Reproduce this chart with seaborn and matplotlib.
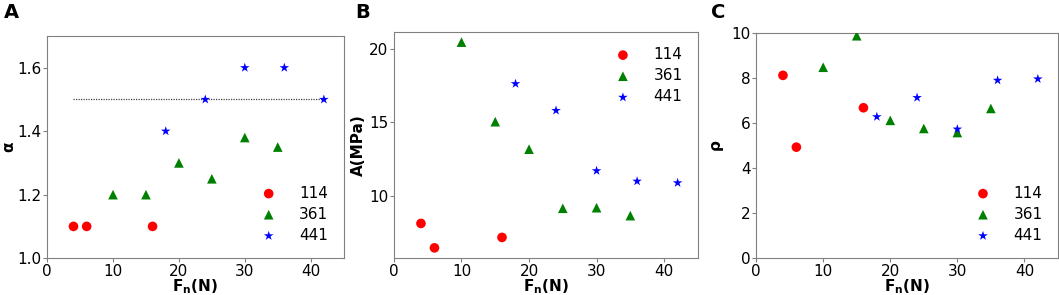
import numpy as np
import pandas as pd
import matplotlib
matplotlib.use("Agg")
import matplotlib.pyplot as plt
import seaborn as sns

# load values (N)
fn_114 = [4, 6, 16]
fn_361 = [10, 15, 20, 25, 30, 35]
fn_441 = [18, 24, 30, 36, 42]

# panel A: alpha
alpha_114 = [1.1, 1.1, 1.1]
alpha_361 = [1.2, 1.2, 1.3, 1.25, 1.38, 1.35]
alpha_441 = [1.4, 1.5, 1.6, 1.6, 1.5]
alpha_ref = 1.5
alpha_ref_x = [4, 42]

# panel B: A (MPa)
amp_114 = [8.13, 6.47, 7.18]
amp_361 = [20.46, 15.05, 13.18, 9.16, 9.2, 8.66]
amp_441 = [17.63, 15.81, 11.71, 11.0, 10.89]

# panel C: rho
rho_114 = [8.12, 4.93, 6.68]
rho_361 = [8.48, 9.88, 6.12, 5.76, 5.58, 6.65]
rho_441 = [6.28, 7.13, 5.73, 7.9, 7.96]

groups = ["114", "361", "441"]
colors = {"114": "red", "361": "green", "441": "blue"}
markers = {"114": "o", "361": "^", "441": "*"}
sizes = {"114": 48, "361": 48, "441": 52}


def makeFrame(v114, v361, v441):
    rows = []
    for g, xs, ys in zip(groups, [fn_114, fn_361, fn_441], [v114, v361, v441]):
        for x, y in zip(xs, ys):
            rows.append({"Fn": x, "val": y, "group": g})
    return pd.DataFrame(rows)


def drawPanel(ax, df, ylabel, legendLoc, ypad):
    for g in groups:
        sub = df[df["group"] == g]
        sns.scatterplot(data=sub, x="Fn", y="val", color=colors[g], marker=markers[g],
                        s=sizes[g], edgecolor="none", label=g, ax=ax, zorder=3)
    ax.set_xlim(0, 45)
    ax.set_xticks([0, 10, 20, 30, 40])
    ax.set_xlabel(r"$\mathbf{F_n}$(N)", fontsize=11, fontweight="bold", labelpad=-1)
    ax.set_ylabel(ylabel, fontsize=11, fontweight="bold", labelpad=ypad)
    ax.tick_params(labelsize=11, length=3, pad=1, color="#808080")
    for sp in ax.spines.values():
        sp.set_color("#808080")
    ax.legend(loc=legendLoc, frameon=False, fontsize=11, handletextpad=1.0,
              labelspacing=0.4, borderaxespad=0.6)


fig = plt.figure(figsize=(10.59, 2.95), dpi=100)
axA = fig.add_axes([0.0445, 0.125, 0.280, 0.753])
axB = fig.add_axes([0.372, 0.125, 0.287, 0.767])
axC = fig.add_axes([0.714, 0.125, 0.285, 0.763])

dfA = makeFrame(alpha_114, alpha_361, alpha_441)
axA.plot(alpha_ref_x, [alpha_ref, alpha_ref], color="#444444", linestyle=(0, (1, 1)),
         linewidth=0.9, zorder=2)
drawPanel(axA, dfA, r"$\mathbf{\alpha}$", "lower right", 2)
axA.set_ylim(1.0, 1.7)
axA.set_yticks([1.0, 1.2, 1.4, 1.6])
axA.yaxis.set_label_coords(-0.1, 0.5)

dfB = makeFrame(amp_114, amp_361, amp_441)
drawPanel(axB, dfB, "A(MPa)", "upper right", 2)
axB.set_yticks([10, 15, 20])

dfC = makeFrame(rho_114, rho_361, rho_441)
drawPanel(axC, dfC, r"$\mathbf{\rho}$", "lower right", 4)
axC.set_ylim(0, 10)
axC.set_yticks([0, 2, 4, 6, 8, 10])

for letter, xpx in zip(["A", "B", "C"], [4, 355, 711]):
    fig.text(xpx / 1059, 1 - 3 / 295, letter, fontsize=14, fontweight="bold",
             ha="left", va="top")

fig.savefig("out.png", dpi=100)
